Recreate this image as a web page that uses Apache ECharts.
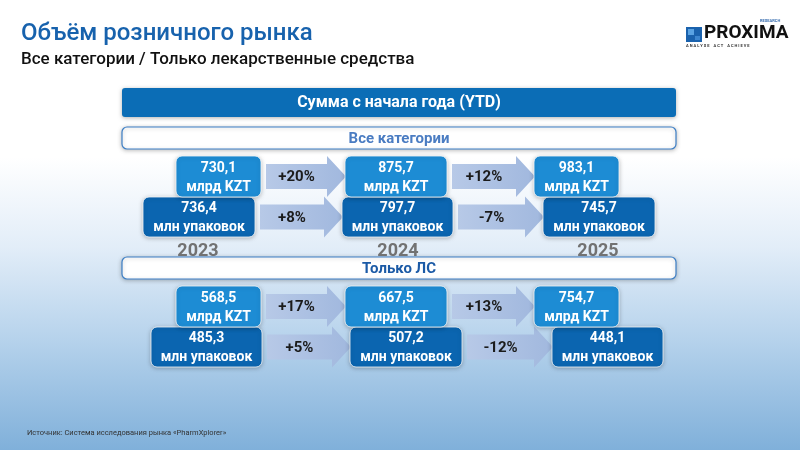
<!DOCTYPE html>
<html>
<head>
<meta charset="utf-8">
<script src="https://cdn.jsdelivr.net/npm/echarts@6/dist/echarts.min.js"></script>
<style>
html, body { margin: 0; padding: 0; }
#chart { width: 800px; height: 450px; }
</style>
</head>
<body>
<div id="chart"></div>
<script>
// данные
const years = ['2023', '2024', '2025'];
const sections = ['Все категории', 'Только ЛС'];
const unitMoney = 'млрд KZT';
const unitPacks = 'млн упаковок';
const moneyAll = [730.1, 875.7, 983.1];
const packsAll = [736.4, 797.7, 745.7];
const moneyRx = [568.5, 667.5, 754.7];
const packsRx = [485.3, 507.2, 448.1];
const moneyAllGrowth = [20, 12];
const packsAllGrowth = [8, -7];
const moneyRxGrowth = [17, 13];
const packsRxGrowth = [5, -12];

const money = [moneyAll, moneyRx];
const packs = [packsAll, packsRx];
const moneyGrowth = [moneyAllGrowth, moneyRxGrowth];
const packsGrowth = [packsAllGrowth, packsRxGrowth];

// края плашек относительно центра года, px
const moneyBoxX = [[-24, 61], [-55, 47], [-66, 19]];
const packsBoxX = [
	[[-57, 55], [-58, 53], [-57, 55]],
	[[-49, 62], [-50, 62], [-48, 63]]
];

const FONT = 'Roboto, "Noto Sans", sans-serif';

function fmt(v) {
	return v.toFixed(1).replace('.', ',');
}
function pct(v) {
	return (v > 0 ? '+' : '') + v + '%';
}

function renderYear(params, api) {
	const i = api.value(0), s = api.value(1);
	const c = api.coord([i, s]);
	const children = [];
	const rows = [
		{ top: 0, bottom: 40, ext: packsBoxX[s][i], next: packsBoxX[s][i + 1], v: packs[s][i], unit: unitPacks, fill: '#0b65b0', growth: packsGrowth[s] },
		{ top: -41, bottom: 0, ext: moneyBoxX[i], next: moneyBoxX[i + 1], v: money[s][i], unit: unitMoney, fill: '#1d8cd4', growth: moneyGrowth[s] }
	];
	rows.forEach(function (r) {
		const x0 = c[0] + r.ext[0], x1 = c[0] + r.ext[1];
		const y0 = c[1] + r.top, y1 = c[1] + r.bottom;
		children.push({
			type: 'rect',
			shape: { x: x0, y: y0, width: x1 - x0, height: y1 - y0, r: 6 },
			style: {
				fill: r.fill, stroke: 'rgba(255,255,255,0.75)', lineWidth: 1,
				shadowBlur: 4, shadowColor: 'rgba(0,0,0,0.25)', shadowOffsetY: 1
			}
		});
		children.push({
			type: 'text',
			style: {
				text: fmt(r.v) + '\n' + r.unit,
				x: (x0 + x1) / 2, y: (y0 + y1) / 2 + 1,
				align: 'center', verticalAlign: 'middle',
				fill: '#fff', font: 'bold 14px ' + FONT, lineHeight: 19
			}
		});
	});
	// стрелки к следующему году
	if (i < years.length - 1) {
		const nx = api.coord([i + 1, s])[0];
		rows.forEach(function (r) {
			const cy = c[1] + (r.top + r.bottom) / 2;
			const a0 = c[0] + r.ext[1] + 5;
			const tip = nx + r.next[0] + 1;
			const hb = tip - 19;
			children.push({
				type: 'polygon',
				shape: {
					points: [[a0, cy - 12.5], [hb, cy - 12.5], [hb, cy - 20.5], [tip, cy],
						[hb, cy + 20.5], [hb, cy + 12.5], [a0, cy + 12.5]]
				},
				style: {
					fill: new echarts.graphic.LinearGradient(0, 0, 1, 0, [
						{ offset: 0, color: '#b7c9e7' },
						{ offset: 1, color: '#a1b8de' }
					])
				}
			});
			children.push({
				type: 'text',
				style: {
					text: pct(r.growth[i]),
					x: (a0 + hb) / 2, y: cy + 1,
					align: 'center', verticalAlign: 'middle',
					fill: '#1b1b1b', font: 'bold 15px ' + FONT
				}
			});
		});
	}
	if (s === 0) {
		children.push({
			type: 'text',
			style: {
				text: years[i], x: c[0] - 2, y: c[1] + 54,
				align: 'center', verticalAlign: 'middle',
				fill: '#727272', font: 'bold 18px ' + FONT
			}
		});
	}
	return { type: 'group', children: children };
}

function renderSection(params, api) {
	const s = api.value(1);
	const cs = params.coordSys;
	const cy = api.coord([0, s])[1] - 59;
	return {
		type: 'group',
		children: [{
			type: 'rect',
			shape: { x: cs.x + 22, y: cy - 11, width: cs.width - 46, height: 22, r: 5 },
			style: {
				fill: '#fff', stroke: '#3d7fc6', lineWidth: 1.2,
				shadowBlur: 4, shadowColor: 'rgba(0,0,0,0.25)', shadowOffsetY: 1
			}
		}, {
			type: 'text',
			style: {
				text: sections[s], x: cs.x + cs.width / 2 - 1, y: cy + 1,
				align: 'center', verticalAlign: 'middle',
				fill: s === 0 ? '#4a7cc2' : '#1b5aa6', font: 'bold 15px ' + FONT
			}
		}]
	};
}

const yearData = [];
sections.forEach(function (name, s) {
	years.forEach(function (y, i) { yearData.push([i, s]); });
});

let myChart = echarts.init(document.getElementById('chart'));
let option = {
	animation: false,
	graphic: [
		{
			type: 'rect', z: -10, silent: true,
			shape: { x: 0, y: 0, width: 800, height: 450 },
			style: {
				fill: new echarts.graphic.LinearGradient(0, 0, 0, 1, [
					{ offset: 0, color: '#ffffff' },
					{ offset: 0.35, color: '#ffffff' },
					{ offset: 0.55, color: '#e2edf8' },
					{ offset: 0.75, color: '#b7d3ec' },
					{ offset: 1, color: '#80b0da' }
				])
			}
		},
		{
			type: 'text', left: 21, top: 22,
			style: { text: 'Объём розничного рынка', fill: '#1762ad', font: '500 24px ' + FONT }
		},
		{
			type: 'text', left: 21, top: 51,
			style: { text: 'Все категории / Только лекарственные средства', fill: '#111', font: '500 17px ' + FONT }
		},
		// логотип
		{ type: 'rect', shape: { x: 686, y: 27, width: 16, height: 15 }, style: { fill: '#1a62ad' } },
		{ type: 'rect', shape: { x: 688, y: 29, width: 6, height: 6 }, style: { fill: '#5aa3e3' } },
		{ type: 'rect', shape: { x: 695, y: 36, width: 5, height: 4 }, style: { fill: '#3d86cf' } },
		{
			type: 'text', left: 704, top: 24,
			style: { text: 'PROXIMA', fill: '#111', font: 'bold 19px ' + FONT }
		},
		{
			type: 'text', left: 760, top: 19,
			style: { text: 'RESEARCH', fill: '#3a6fb0', font: 'bold 4px ' + FONT }
		},
		{
			type: 'text', left: 686, top: 44,
			style: { text: 'A N A L Y S E    A C T    A C H I E V E', fill: '#333', font: 'bold 4px ' + FONT }
		},
		// шапка YTD
		{
			type: 'rect',
			shape: { x: 122, y: 88, width: 554, height: 29, r: 3 },
			style: {
				fill: '#0b6db6', shadowBlur: 4, shadowColor: 'rgba(0,0,0,0.3)', shadowOffsetY: 1
			}
		},
		{
			type: 'text', x: 399, y: 103,
			style: {
				text: 'Сумма с начала года (YTD)', align: 'center', verticalAlign: 'middle',
				fill: '#fff', font: 'bold 16px ' + FONT
			}
		},
		{
			type: 'text', left: 27, top: 429,
			style: { text: 'Источник: Система исследования рынка «PharmXplorer»', fill: '#333', font: '7.5px ' + FONT }
		}
	],
	grid: { left: 100, right: 100, top: 132, height: 260 },
	xAxis: { type: 'category', data: years, show: false },
	yAxis: { type: 'category', data: sections, inverse: true, show: false },
	series: [
		{
			type: 'custom',
			renderItem: renderSection,
			data: sections.map(function (n, s) { return [0, s]; }),
			silent: true
		},
		{
			type: 'custom',
			renderItem: renderYear,
			data: yearData,
			silent: true
		}
	]
};
myChart.setOption(option);
</script>
</body>
</html>
